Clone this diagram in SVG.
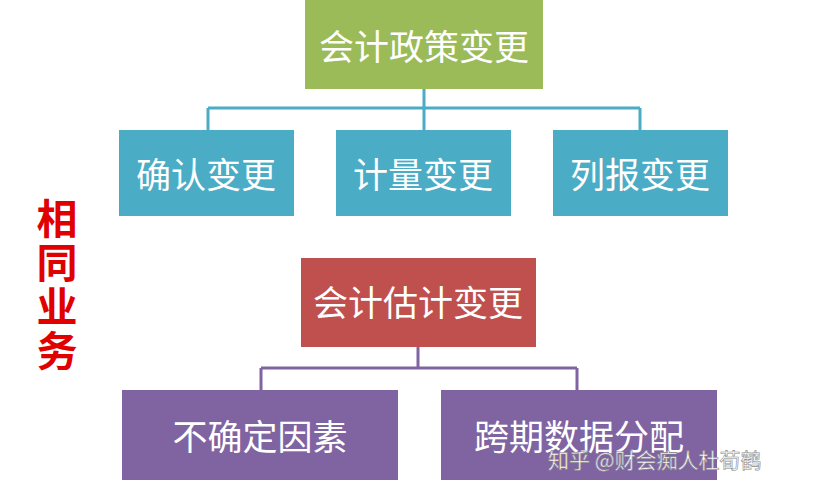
<svg xmlns="http://www.w3.org/2000/svg" width="819" height="493" viewBox="0 0 819 493">
<style>
.t{font-family:"Noto Sans CJK SC","Noto Sans",sans-serif;fill:#fff;text-anchor:middle;dominant-baseline:central}
.c1{stroke:#4BACC6;stroke-width:3;fill:none}
.c2{stroke:#8064A2;stroke-width:3;fill:none}
</style>
<rect width="819" height="493" fill="#fff"/>
<g id="connectors">
<path class="c1" d="M424 89V108M208 108H640M208 108V130M424 108V130M640 108V130"/>
<path class="c2" d="M418 347V368M261 368H577M261 368V390M577 368V390"/>
</g>
<g id="n-policy"><rect x="305" y="0" width="238" height="89" fill="#9BBB59"/><text class="t" x="424" y="44" font-size="35">会计政策变更</text></g>
<g id="n-recog"><rect x="119" y="130" width="175" height="86" fill="#4BACC6"/><text class="t" x="206" y="172" font-size="35">确认变更</text></g>
<g id="n-measure"><rect x="336" y="130" width="175" height="86" fill="#4BACC6"/><text class="t" x="423" y="172" font-size="35">计量变更</text></g>
<g id="n-report"><rect x="553" y="130" width="175" height="86" fill="#4BACC6"/><text class="t" x="640" y="172" font-size="35">列报变更</text></g>
<g id="n-estimate"><rect x="301" y="258" width="235" height="89" fill="#C0504D"/><text class="t" x="418" y="300" font-size="35">会计估计变更</text></g>
<g id="n-uncert"><rect x="122" y="390" width="276" height="90" fill="#8064A2"/><text class="t" x="260" y="434" font-size="35">不确定因素</text></g>
<g id="n-cross"><rect x="441" y="390" width="276" height="90" fill="#8064A2"/><text class="t" x="579" y="434" font-size="35">跨期数据分配</text></g>
<g id="label" font-family="Noto Sans CJK SC,sans-serif" font-weight="bold" font-size="41" fill="#E00000" text-anchor="middle">
<text x="57" y="234">相</text><text x="57" y="278">同</text><text x="57" y="322">业</text><text x="57" y="366">务</text></g>
<text x="548" y="468" font-family="Noto Sans CJK SC,sans-serif" font-size="21" fill="#fff" stroke="#888" stroke-width="0.6">知乎 @财会痴人杜荀鹤</text>
</svg>
